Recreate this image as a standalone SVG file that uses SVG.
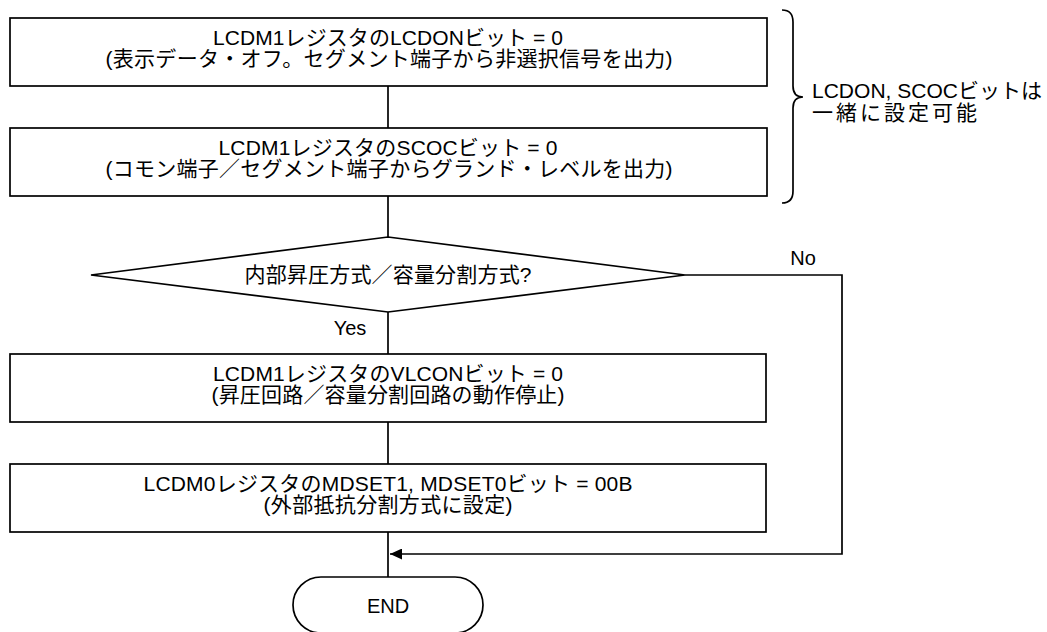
<svg xmlns="http://www.w3.org/2000/svg" width="1047" height="632" viewBox="0 0 1047 632">
<style>
.box{fill:#fff;stroke:#000;stroke-width:1.7}
.ln{fill:none;stroke:#000;stroke-width:1.7}
text{font-family:"Liberation Sans","Noto Sans CJK JP",sans-serif;font-size:21px;fill:#000}
.c{text-anchor:middle}
.lbl{font-size:20px}
</style>
<defs>
<marker id="ah" viewBox="0 0 12 11" refX="12" refY="5.5" markerWidth="12" markerHeight="11" markerUnits="userSpaceOnUse" orient="auto">
<path d="M0,0 L12,5.5 L0,11 Z" fill="#000"/>
</marker>
</defs>
<g id="connectors">
<line class="ln" x1="388" y1="86" x2="388" y2="128"/>
<line class="ln" x1="388" y1="196" x2="388" y2="237"/>
<line class="ln" x1="388" y1="312" x2="388" y2="354"/>
<line class="ln" x1="388" y1="422" x2="388" y2="464"/>
<line class="ln" x1="388" y1="532" x2="388" y2="577"/>
<path class="ln" d="M685,275 L842,275 L842,554 L390,554" marker-end="url(#ah)"/>
<text x="803" y="265" class="c lbl">No</text>
<text x="350" y="335" class="c lbl">Yes</text>
</g>
<g id="box1">
<rect class="box" x="10" y="18" width="757" height="68"/>
<text x="388" y="45" class="c" textLength="350" lengthAdjust="spacing">LCDM1レジスタのLCDONビット = 0</text>
<text x="389" y="66" class="c" textLength="567" lengthAdjust="spacing">(表示データ・オフ。セグメント端子から非選択信号を出力)</text>
</g>
<g id="box2">
<rect class="box" x="10" y="128" width="757" height="68"/>
<text x="388" y="155" class="c" textLength="339" lengthAdjust="spacing">LCDM1レジスタのSCOCビット = 0</text>
<text x="389" y="176" class="c" textLength="567" lengthAdjust="spacing">(コモン端子／セグメント端子からグランド・レベルを出力)</text>
</g>
<g id="note">
<path class="ln" d="M782,10 Q793,10 793,22 L793,86 Q793,97 803,97 Q793,97 793,108 L793,191 Q793,203 782,203"/>
<text x="812" y="98" textLength="230" lengthAdjust="spacing">LCDON, SCOCビットは</text>
<text x="812" y="120" textLength="165" lengthAdjust="spacing">一緒に設定可能</text>
</g>
<g id="decision">
<polygon class="box" points="388,237 685,275 388,312 91,275"/>
<text x="388" y="282" class="c" textLength="287" lengthAdjust="spacing">内部昇圧方式／容量分割方式?</text>
</g>
<g id="box3">
<rect class="box" x="10" y="354" width="756" height="68"/>
<text x="388" y="381" class="c" textLength="350" lengthAdjust="spacing">LCDM1レジスタのVLCONビット = 0</text>
<text x="388" y="402" class="c" textLength="353" lengthAdjust="spacing">(昇圧回路／容量分割回路の動作停止)</text>
</g>
<g id="box4">
<rect class="box" x="10" y="464" width="756" height="68"/>
<text x="388" y="491" class="c" textLength="489" lengthAdjust="spacing">LCDM0レジスタのMDSET1, MDSET0ビット = 00B</text>
<text x="388" y="512" class="c" textLength="249" lengthAdjust="spacing">(外部抵抗分割方式に設定)</text>
</g>
<g id="end">
<rect class="box" x="293" y="577" width="190" height="56" rx="28" ry="28"/>
<text x="388" y="613" class="c lbl">END</text>
</g>
</svg>
